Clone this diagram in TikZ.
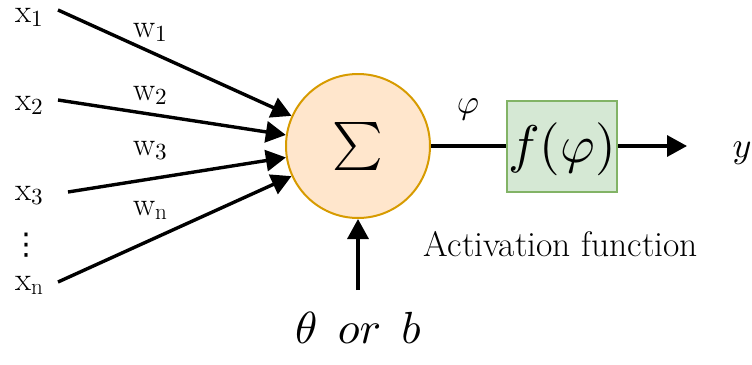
\documentclass[tikz,border=0pt]{standalone}
\usepackage{fontspec}
\newfontfamily\dejavu{DejaVu Sans}
\DeclareFontFamily{OML}{cmm}{\skewchar\font127 }
\DeclareFontShape{OML}{cmm}{m}{it}{<->cmmi10}{}
\DeclareFontFamily{OMX}{cmex}{}
\DeclareFontShape{OMX}{cmex}{m}{n}{<->cmex10}{}
\DeclareFontFamily{OT1}{cmr}{\hyphenchar\font45 }
\DeclareFontShape{OT1}{cmr}{m}{n}{<->cmr10}{}
\DeclareFontFamily{OMS}{cmsy}{\skewchar\font48 }
\DeclareFontShape{OMS}{cmsy}{m}{n}{<->cmsy10}{}
\usetikzlibrary{arrows.meta}
\definecolor{sumfill}{HTML}{FFE6CC}
\definecolor{sumdraw}{HTML}{D79B00}
\definecolor{actfill}{HTML}{D5E8D4}
\definecolor{actdraw}{HTML}{82B366}
\tikzset{
  conn/.style={line width=3.4pt, -{Triangle[length=20pt,width=21pt]}},
  plainline/.style={line width=3.4pt},
  lbl/.style={inner sep=0pt, anchor=base west, font=\fontsize{33}{38}\selectfont},
  mathlbl/.style={inner sep=0pt, anchor=base},
}
\begin{document}
\begin{tikzpicture}[x=1pt,y=-1pt]
\useasboundingbox (0,0) rectangle (752,364);
% summation node
\node[circle, draw=sumdraw, fill=sumfill, line width=2pt, minimum size=144pt, inner sep=0pt] (sum) at (358,146) {\fontsize{48}{48}\selectfont$\sum$};
% activation box
\node[rectangle, draw=actdraw, fill=actfill, line width=2pt, minimum width=110pt, minimum height=91pt, inner sep=0pt] (act) at (562,146) {\fontsize{53}{53}\selectfont\raisebox{-3.5pt}[0.75em][0.25em]{$f(\varphi)$}};
% input labels
\node[lbl] (x1) at (15,22) {$\mathrm{x}_{1}$};
\node[lbl] (x2) at (15,110) {$\mathrm{x}_{2}$};
\node[lbl] (x3) at (15,200) {$\mathrm{x}_{3}$};
\node[lbl] (xn) at (15,290) {$\mathrm{x}_{\mathrm{n}}$};
\node[inner sep=0pt] (vd) at (26,245) {\dejavu\fontsize{30}{30}\selectfont ⋮};
% weight labels
\node[lbl] (w1) at (133,37) {$\mathrm{w}_{1}$};
\node[lbl] (w2) at (133,100) {$\mathrm{w}_{2}$};
\node[lbl] (w3) at (133,155) {$\mathrm{w}_{3}$};
\node[lbl] (wn) at (133,215) {$\mathrm{w}_{\mathrm{n}}$};
% connector start points
\coordinate (s1) at (58,10);
\coordinate (s2) at (58,100);
\coordinate (s3) at (68,192);
\coordinate (sn) at (58,282);
\coordinate (sb) at (358,290);
\coordinate (out) at (687,146);
% connectors
\draw[conn] (s1) -- (sum);
\draw[conn] (s2) -- (sum);
\draw[conn] (s3) -- (sum);
\draw[conn] (sn) -- (sum);
\draw[conn] (sb) -- (sum);
\draw[plainline] (sum.east) -- (act.west);
\draw[conn] (act.east) -- (out);
% other labels
\node[mathlbl, font=\fontsize{34}{40}\selectfont] (phi) at (468,113) {$\varphi$};
\node[mathlbl, font=\fontsize{36}{42}\selectfont] (y) at (742,157) {$y$};
\node[mathlbl, font=\fontsize{35.5}{40}\selectfont] (actlbl) at (561,256) {Activation function};
\node[mathlbl, font=\fontsize{45}{52}\selectfont] (bias) at (358,343) {$\theta\hspace{0.45em}or\hspace{0.45em}b$};
\end{tikzpicture}
\end{document}
